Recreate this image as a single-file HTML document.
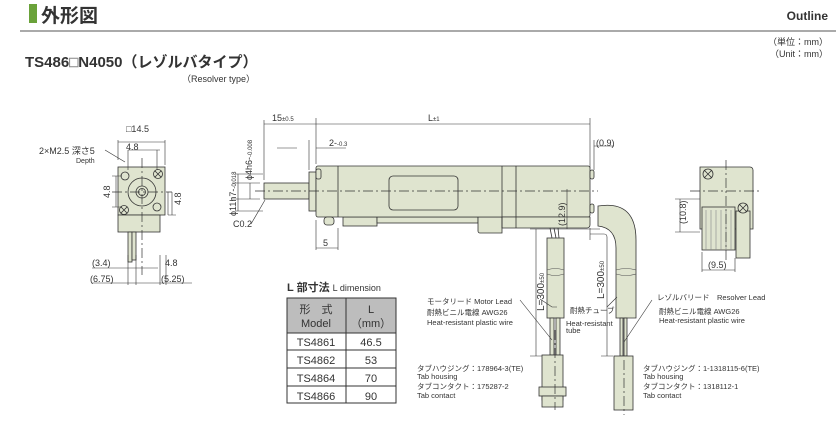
<!DOCTYPE html>
<html><head><meta charset="utf-8"><style>
html,body{margin:0;padding:0;background:#fff;width:836px;height:434px;overflow:hidden}
svg{display:block}
text{font-family:"Liberation Sans","Noto Sans CJK JP",sans-serif;fill:#333}
</style></head><body>
<svg width="836" height="434" viewBox="0 0 836 434" xmlns="http://www.w3.org/2000/svg">
<rect x="29" y="4" width="8" height="19" fill="#6aa23a"/>
<text x="41" y="22" font-size="19" font-weight="bold" fill="#222">外形図</text>
<text x="828" y="20" font-size="12" font-weight="bold" fill="#666" text-anchor="end">Outline</text>
<line x1="20" y1="31" x2="836" y2="31" stroke="#555" stroke-width="1"/>
<text x="25" y="67" font-size="15" font-weight="bold" fill="#222">TS486<tspan fill="#fff" stroke="#888" stroke-width=".5">□</tspan>N4050（レゾルバタイプ）</text>
<text x="182" y="82" font-size="9" fill="#555">（Resolver type）</text>
<text x="828" y="45" font-size="9" fill="#555" text-anchor="end">（単位：mm）</text>
<text x="828" y="57" font-size="9" fill="#555" text-anchor="end">（Unit：mm）</text>

<g stroke="#333" stroke-width=".8" fill="#dfe4cf">
<rect x="118" y="167" width="47" height="48"/>
<rect x="118" y="215" width="42" height="17"/>
<rect x="128" y="232" width="4" height="30"/><rect x="132" y="232" width="4" height="28"/>
<circle cx="142" cy="192" r="14"/><circle cx="142" cy="192" r="6"/><circle cx="142" cy="192" r="3.5"/>
<circle cx="125" cy="176" r="4"/><circle cx="157" cy="207" r="4"/>
<circle cx="158" cy="174" r="4.5"/><circle cx="124" cy="210" r="4.5"/>
<path d="M155 171l6 6M161 171l-6 6M121 207l6 6M127 207l-6 6" fill="none"/>
<rect x="264" y="183" width="45" height="16"/>
<rect x="309" y="172" width="7" height="39"/>
<rect x="343" y="217" width="34" height="9"/>
<rect x="377" y="217" width="101" height="6"/>
<path d="M478 217h24v16h-22a2 2 0 0 1-2-2z"/>
<rect x="316" y="166" width="274" height="51" rx="2"/>
<path d="M502 217h88v8a3 3 0 0 1-3 3h-85z"/>
<line x1="338" y1="166" x2="338" y2="217"/><line x1="502" y1="166" x2="502" y2="228"/><line x1="516" y1="166" x2="516" y2="228"/>
<rect x="389" y="176" width="69" height="34" rx="4"/>
<rect x="316" y="169" width="5" height="10" rx="2"/>
<rect x="324" y="217" width="10" height="8" rx="3"/>
<rect x="590" y="170" width="4" height="9" rx="2"/>
<rect x="590" y="204" width="4" height="9" rx="2"/>
<path d="M550 228l2 10M554 228l2 10M558 228l1 10" fill="none"/>
<rect x="547" y="238" width="17" height="80"/>
<rect x="550" y="318" width="4" height="37"/><rect x="556" y="318" width="4" height="37"/>
<rect x="542" y="355" width="21" height="45"/>
<rect x="539" y="387" width="27" height="9"/>
<rect x="542" y="396" width="21" height="11"/>
<path d="M598 206q38 -6 38 34v78h-20v-70q0 -20 -18 -22z"/>
<rect x="620" y="318" width="3" height="38"/><rect x="624" y="318" width="3" height="38"/>
<rect x="614" y="356" width="19" height="54"/>
<path d="M700 167h50a3 3 0 0 1 3 3v59h-53z"/>
<rect x="702" y="207" width="33" height="43"/>
<rect x="736" y="211" width="14" height="47"/>
<circle cx="708" cy="174" r="5"/><circle cx="743" cy="208" r="5"/>
<path d="M704 170l8 8M712 170l-8 8M739 204l8 8M747 204l-8 8" fill="none"/>
</g>
<g stroke="#888" stroke-width=".6" fill="none">
<path d="M706 210v40M711 210v40M716 210v40M721 210v40M726 210v40M731 210v40"/>
<path d="M547 270q8 -3 17 0M547 274q8 3 17 0M616 270q10 -3 20 0M616 274q10 3 20 0" stroke="#555"/>
</g>
<g stroke="#333" stroke-width=".7" fill="none" stroke-dasharray="10 3 2 3">
<line x1="255" y1="191" x2="598" y2="191"/>
<line x1="112" y1="192" x2="172" y2="192"/><line x1="142" y1="158" x2="142" y2="275"/>
<line x1="555" y1="330" x2="555" y2="410"/><line x1="624" y1="360" x2="624" y2="415"/>
<line x1="726" y1="160" x2="726" y2="262"/><line x1="690" y1="191" x2="760" y2="191"/>
</g>
<g stroke="#333" stroke-width=".6" fill="none">
<path d="M264 120v60M316 118v46M590 118v50M264 124h326M297 148h-20M316 148h30M309 140v30"/>
<path d="M594 146h20M594 140v30"/>
<path d="M232 183h28M232 199h28M235 174h28M235 211h28M238 174v37M250 183v16"/>
<path d="M316 220v30M338 228v22M316 248h22M265 200l-14 24"/>
<path d="M567 189v40M530 229h70M536 229v127M530 356h12"/>
<path d="M590 234h14q3 0 3 3v119M601 356h12M590 228v12"/>
<path d="M118 160v-20M165 140v25M118 142h47M128 150h32M128 150v20M157 150v20M112 176h10M112 207h10M116 176v31M168 192v23M168 215h8M172 192v23"/>
<path d="M92 268h66M92 283h100M128 255v30M136 255v30M160 255v30M166 255v30M125 162l-20-12"/>
<path d="M700 232h-25M700 199h-25M680 199v33M702 252v20M735 258v14M702 270h33"/>
<path d="M520 300l32 40M557 307h-5l-12 -8M607 307l10 -10M652 300l-28 42"/>
</g>
<g font-size="9" fill="#333">
<text x="272" y="121">15<tspan font-size="6">±0.5</tspan></text>
<text x="428" y="121">L<tspan font-size="6">±1</tspan></text>
<text x="329" y="146">2-<tspan font-size="6">-0.3</tspan></text>
<text x="596" y="146">(0.9)</text>
<text x="233" y="227">C0.2</text>
<text x="323" y="246">5</text>
<text transform="translate(236,216) rotate(-90)">ϕ11h7-<tspan font-size="6">-0.018</tspan></text>
<text transform="translate(252,180) rotate(-90)">ϕ4h6-<tspan font-size="6">-0.008</tspan></text>
<text transform="translate(565,226) rotate(-90)">(12.9)</text>
<text transform="translate(544,292) rotate(-90)" text-anchor="middle" font-size="10">L=300<tspan font-size="6">±50</tspan></text>
<text transform="translate(604,280) rotate(-90)" text-anchor="middle" font-size="10">L=300<tspan font-size="6">±50</tspan></text>
<text x="126" y="132">□14.5</text>
<text x="126" y="150">4.8</text>
<text x="39" y="154">2×M2.5 深さ5</text>
<text x="76" y="163" font-size="7" fill="#777">Depth</text>
<text transform="translate(110,198) rotate(-90)">4.8</text>
<text transform="translate(181,205) rotate(-90)">4.8</text>
<text x="92" y="266">(3.4)</text><text x="90" y="282">(6.75)</text>
<text x="165" y="266">4.8</text><text x="161" y="282">(5.25)</text>
<text transform="translate(686,224) rotate(-90)">(10.8)</text>
<text x="708" y="268">(9.5)</text>
</g>
<g font-size="7.5" fill="#444">
<text x="427" y="304">モータリード Motor Lead</text>
<text x="427" y="315">耐熱ビニル電線 AWG26</text>
<text x="427" y="325" fill="#666">Heat-resistant plastic wire</text>
<text x="570" y="313">耐熱チューブ</text>
<text x="566" y="326" fill="#666">Heat-resistant</text>
<text x="566" y="333" fill="#666">tube</text>
<text x="417" y="371">タブハウジング：178964-3(TE)</text>
<text x="417" y="379" fill="#666">Tab housing</text>
<text x="417" y="389">タブコンタクト：175287-2</text>
<text x="417" y="398" fill="#666">Tab contact</text>
<text x="657" y="300">レゾルバリード　Resolver Lead</text>
<text x="659" y="314">耐熱ビニル電線 AWG26</text>
<text x="659" y="323" fill="#666">Heat-resistant plastic wire</text>
<text x="643" y="371">タブハウジング：1-1318115-6(TE)</text>
<text x="643" y="379" fill="#666">Tab housing</text>
<text x="643" y="389">タブコンタクト：1318112-1</text>
<text x="643" y="398" fill="#666">Tab contact</text>
</g>
<text x="287" y="291" font-size="11" font-weight="bold" fill="#222">L 部寸法 <tspan font-size="9" font-weight="normal">L dimension</tspan></text>
<rect x="287" y="298" width="109" height="35" fill="#bdbdbd"/>
<g stroke="#333" stroke-width="1" fill="none">
<rect x="287" y="298" width="109" height="105"/>
<line x1="346" y1="298" x2="346" y2="403"/>
<line x1="287" y1="333" x2="396" y2="333"/><line x1="287" y1="350" x2="396" y2="350"/>
<line x1="287" y1="368" x2="396" y2="368"/><line x1="287" y1="386" x2="396" y2="386"/>
</g>
<g font-size="11" fill="#222" text-anchor="middle">
<text x="316" y="313" fill="#444">形　式</text><text x="316" y="327" fill="#444">Model</text>
<text x="371" y="313" fill="#444">L</text><text x="371" y="327" fill="#444">（mm）</text>
<text x="316" y="346">TS4861</text><text x="371" y="346">46.5</text>
<text x="316" y="364">TS4862</text><text x="371" y="364">53</text>
<text x="316" y="382">TS4864</text><text x="371" y="382">70</text>
<text x="316" y="400">TS4866</text><text x="371" y="400">90</text>
</g>
</svg>
</body></html>
